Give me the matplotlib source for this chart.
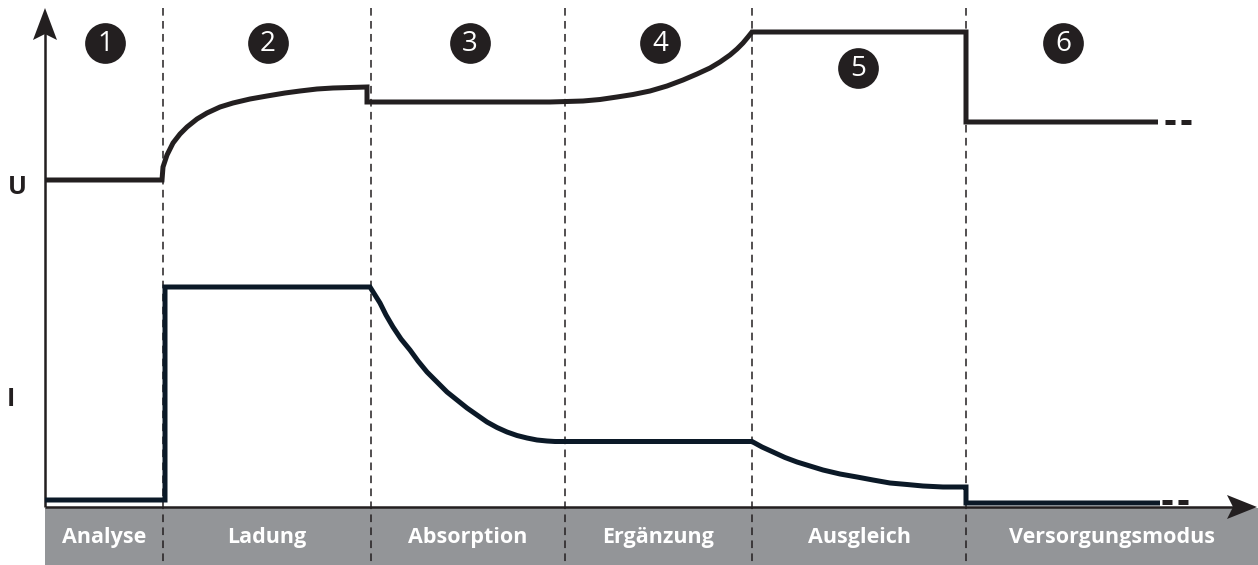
import matplotlib
matplotlib.use("Agg")
import matplotlib.pyplot as plt
from matplotlib.patches import Polygon, Rectangle

# ---------------- data (schematic units: x = time, y = level, top = 0) -------------
phase_edges = [45, 163, 371, 565, 752, 966, 1258]
phase_labels = ["Analyse", "Ladung", "Absorption", "Ergänzung", "Ausgleich", "Versorgungsmodus"]
phase_numbers = ["1", "2", "3", "4", "5", "6"]
number_x = [105, 268, 470, 660, 858, 1063]
number_y = [43, 43, 43, 43, 68, 43]

# Voltage curve U
u_x = [45, 162, 163, 167, 173, 180, 187, 197, 207, 220, 233, 250, 267, 285, 300, 317, 333, 350, 367,
       367, 550, 583, 600, 617, 633, 650, 667, 683, 697, 710, 720, 730, 737, 743, 748, 752,
       966, 966, 1158]
u_y = [180, 180, 167, 155, 143, 134, 127, 119, 113, 107, 103, 99, 96, 93, 91, 89, 88, 87.5, 87,
       102, 102, 101, 99.5, 97, 94.5, 91, 86, 80, 74, 68, 62, 55, 49, 43, 37, 32,
       32, 122, 122]
u_tail_x = [1165, 1191]
u_tail_y = [122, 122]

# Current curve I
i_x = [45, 165, 165, 370, 375, 380, 386, 393, 401, 410, 418, 427, 437, 447, 457, 467, 477, 487,
       497, 507, 517, 527, 537, 547, 555, 563, 752, 762, 773, 785, 797, 810, 823, 840, 857,
       873, 890, 907, 923, 943, 963, 966, 966, 1160]
i_y = [500, 500, 287, 287, 295, 303, 315, 327, 339, 350, 361, 372, 382, 392, 400, 408, 415, 422,
       427.5, 432, 435.5, 438, 440, 441, 441.5, 441.5, 441.5, 447, 452, 457.5, 462, 466, 470, 474, 477,
       480, 483, 484.5, 486, 487, 487, 487, 503, 503]
i_tail_x = [1162, 1188]
i_tail_y = [502, 502]

axis_y = 507
band_bottom = 565
axis_top = 8
axis_right = 1257

U_COLOR = "#231f20"
I_COLOR = "#0b1927"
BAND_COLOR = "#939598"
LW = 3.6

# ---------------- figure ---------------------------------------------------------
fig = plt.figure(figsize=(12.58, 5.65), dpi=100)
ax = fig.add_axes([0, 0, 1, 1])
ax.set_xlim(0, 1258)
ax.set_ylim(565, 0)
ax.axis("off")

font = ["Open Sans", "DejaVu Sans"]

# gray band
ax.add_patch(Rectangle((phase_edges[0], axis_y + 1), phase_edges[-1] - phase_edges[0],
                       band_bottom - axis_y - 1, facecolor=BAND_COLOR, edgecolor="none", zorder=1))

# dashed phase separators
for xe in phase_edges[1:-1]:
    ax.plot([xe, xe], [axis_top, band_bottom], color=U_COLOR, lw=1.1,
            dashes=(5, 3.5), zorder=2)

# phase labels in the band
for k, lab in enumerate(phase_labels):
    xc = (phase_edges[k] + phase_edges[k + 1]) / 2
    ax.text(xc, (axis_y + band_bottom) / 2 + 1, lab, color="white", fontsize=15.5,
            fontweight="bold", ha="center", va="center", family=font, zorder=3)

# axes lines with arrows
ax.plot([45, 45], [axis_y, 30], color=U_COLOR, lw=1.8, zorder=4, solid_capstyle="butt")
ax.plot([45, axis_right - 20], [axis_y, axis_y], color=U_COLOR, lw=1.8, zorder=4,
        solid_capstyle="butt")
ax.add_patch(Polygon([(45, axis_top), (33, 40), (45, 34), (57, 40)], closed=True,
                     facecolor=U_COLOR, edgecolor="none", zorder=4))
ax.add_patch(Polygon([(axis_right, axis_y), (axis_right - 30, axis_y - 12),
                      (axis_right - 24, axis_y), (axis_right - 30, axis_y + 12)], closed=True,
                     facecolor=U_COLOR, edgecolor="none", zorder=4))

# curves
ax.plot(u_x, u_y, color=U_COLOR, lw=LW, solid_joinstyle="miter", solid_capstyle="butt", zorder=5)
ax.plot(u_tail_x, u_tail_y, color=U_COLOR, lw=LW, dashes=(7.2 / LW, 4.3 / LW),
        dash_capstyle="butt", zorder=5)
ax.plot(i_x, i_y, color=I_COLOR, lw=LW, solid_joinstyle="miter", solid_capstyle="butt", zorder=5)
ax.plot(i_tail_x, i_tail_y, color=U_COLOR, lw=LW, dashes=(7.2 / LW, 4.3 / LW),
        dash_capstyle="butt", zorder=5)

# U / I labels
ax.text(17, 188, "U", fontsize=18, fontweight="bold", color=U_COLOR, ha="center", va="center",
        family=font)
ax.text(11, 400, "I", fontsize=18, fontweight="bold", color=U_COLOR, ha="center", va="center",
        family=font)

# numbered circles
ax.scatter(number_x, number_y, s=860, color=U_COLOR, zorder=6, linewidths=0)
for xn, yn, t in zip(number_x, number_y, phase_numbers):
    ax.text(xn, yn + 1, t, color="white", fontsize=20, ha="center", va="center",
            family=font, zorder=7)

fig.savefig("out.png", dpi=100)
